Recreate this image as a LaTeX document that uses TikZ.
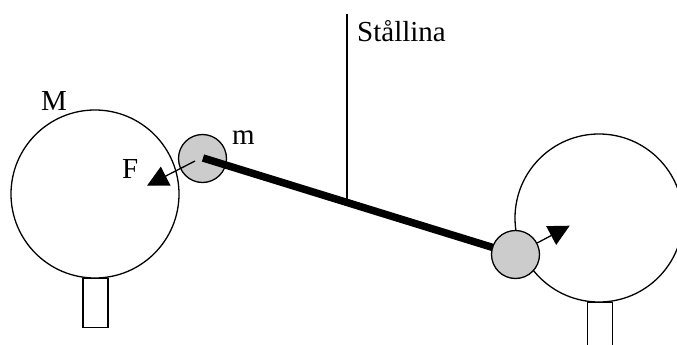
\documentclass[tikz,border=0pt]{standalone}
\usepackage{fontspec}
\setmainfont{Liberation Serif}
\usetikzlibrary{arrows.meta}

\definecolor{ballGray}{HTML}{CCCCCC}

\tikzset{
  bigball/.style={draw,circle,fill=white,line width=1.3pt,inner sep=0pt,minimum size=168pt},
  smallball/.style={draw,circle,fill=ballGray,line width=1.3pt,inner sep=0pt,minimum size=48pt},
  foot/.style={draw,fill=white,line width=1.3pt,inner sep=0pt,minimum width=25pt,anchor=north},
  lbl/.style={anchor=base west,inner sep=0pt,font=\fontsize{29}{29}\selectfont},
  force/.style={line width=1.3pt,-{Triangle[length=21pt,width=21pt]}}
}

\begin{document}
\begin{tikzpicture}[x=1pt,y=-1pt]

  \clip (0,0) rectangle (677,345);
  \fill[white] (0,0) rectangle (677,345);

  % Feet
  \node[foot,minimum height=49pt] (footL) at (95.5,278) {};
  \node[foot,minimum height=60pt] (footR) at (600,302) {};

  % Big spheres
  \node[bigball] (bigL) at (95,194) {};
  \node[bigball] (bigR) at (599,218) {};

  % Wire
  \coordinate (top) at (347,14);
  \coordinate (fix) at (347,201.7);
  \draw[line width=1.5pt] (top) -- (fix);

  % Small spheres and rod
  \node[smallball] (ballL) at (202.5,158.5) {};
  \coordinate (rodL) at (203,158);
  \coordinate (rodR) at (515.5,254.5);
  \draw[line width=7.5pt] (rodL) -- (rodR);
  \node[smallball] (ballR) at (rodR) {};

  % Forces
  \coordinate (startL) at (195,161);
  \coordinate (tipL) at (147,185.7);
  \coordinate (tipR) at (569.7,225.7);
  \draw[force] (startL) -- (tipL);
  \draw[force] (ballR) -- (tipR);

  % Labels
  \node[lbl] (labM) at (41,110) {M};
  \node[lbl] (labF) at (122,178) {F};
  \node[lbl] (labm) at (232,144) {m};
  \node[lbl] (labS) at (357,42) {Stållina};

\end{tikzpicture}
\end{document}
